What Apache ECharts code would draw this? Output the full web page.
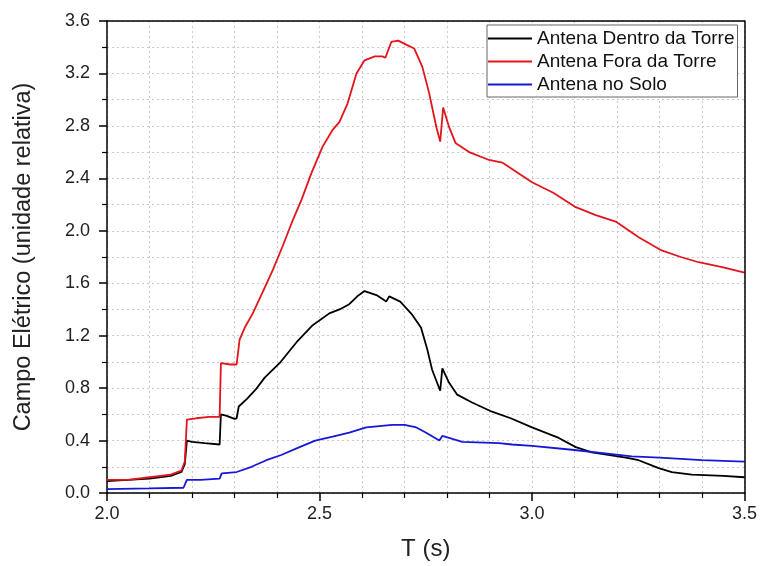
<!DOCTYPE html>
<html>
<head>
<meta charset="utf-8">
<script src="https://cdn.jsdelivr.net/npm/echarts@6/dist/echarts.min.js"></script>
<style>
  html, body { margin: 0; padding: 0; background: #fff; }
  #chart { width: 760px; height: 566px; }
</style>
</head>
<body>
<div id="chart"></div>
<script>
// Series names shown in the legend
const seriesNames = ['Antena Dentro da Torre', 'Antena Fora da Torre', 'Antena no Solo'];

// Antena Dentro da Torre: time (s) and field (relative units)
const tDentro = [2.00, 2.05, 2.10, 2.15, 2.175, 2.183, 2.188, 2.20, 2.23, 2.265, 2.268, 2.28, 2.30, 2.305, 2.31, 2.33, 2.35, 2.371, 2.406, 2.446, 2.484, 2.523, 2.547, 2.57, 2.589, 2.606, 2.634, 2.657, 2.664, 2.69, 2.718, 2.739, 2.754, 2.765, 2.784, 2.789, 2.805, 2.824, 2.859, 2.906, 2.95, 3.00, 3.063, 3.103, 3.141, 3.221, 3.251, 3.298, 3.329, 3.376, 3.45, 3.50];
const vDentro = [0.09, 0.10, 0.11, 0.13, 0.16, 0.22, 0.40, 0.39, 0.38, 0.37, 0.60, 0.59, 0.565, 0.57, 0.66, 0.72, 0.79, 0.88, 0.99, 1.15, 1.28, 1.37, 1.40, 1.44, 1.50, 1.54, 1.51, 1.46, 1.50, 1.46, 1.36, 1.26, 1.09, 0.94, 0.78, 0.95, 0.84, 0.75, 0.69, 0.62, 0.57, 0.50, 0.42, 0.35, 0.31, 0.27, 0.25, 0.19, 0.16, 0.14, 0.13, 0.12];

// Antena Fora da Torre
const tFora = [2.00, 2.05, 2.10, 2.15, 2.175, 2.183, 2.188, 2.21, 2.24, 2.265, 2.268, 2.29, 2.305, 2.312, 2.324, 2.343, 2.366, 2.39, 2.413, 2.437, 2.458, 2.481, 2.507, 2.531, 2.547, 2.566, 2.587, 2.606, 2.63, 2.648, 2.655, 2.669, 2.685, 2.704, 2.723, 2.742, 2.758, 2.775, 2.784, 2.791, 2.805, 2.82, 2.852, 2.899, 2.93, 3.00, 3.05, 3.103, 3.15, 3.197, 3.251, 3.305, 3.35, 3.392, 3.45, 3.50];
const vFora = [0.10, 0.10, 0.12, 0.14, 0.17, 0.24, 0.56, 0.57, 0.58, 0.58, 0.99, 0.98, 0.98, 1.17, 1.26, 1.37, 1.53, 1.70, 1.88, 2.08, 2.24, 2.44, 2.64, 2.77, 2.83, 2.97, 3.20, 3.30, 3.33, 3.33, 3.32, 3.44, 3.45, 3.42, 3.39, 3.25, 3.05, 2.79, 2.68, 2.94, 2.79, 2.67, 2.60, 2.54, 2.52, 2.37, 2.29, 2.18, 2.12, 2.07, 1.95, 1.85, 1.80, 1.76, 1.72, 1.68];

// Antena no Solo
const tSolo = [2.00, 2.10, 2.18, 2.188, 2.22, 2.265, 2.27, 2.305, 2.34, 2.375, 2.41, 2.453, 2.49, 2.531, 2.57, 2.61, 2.641, 2.671, 2.70, 2.728, 2.751, 2.782, 2.789, 2.836, 2.922, 2.953, 3.00, 3.094, 3.235, 3.30, 3.40, 3.50];
const vSolo = [0.03, 0.035, 0.04, 0.10, 0.10, 0.11, 0.15, 0.16, 0.20, 0.25, 0.29, 0.35, 0.40, 0.43, 0.46, 0.50, 0.51, 0.52, 0.52, 0.50, 0.46, 0.40, 0.435, 0.39, 0.38, 0.37, 0.36, 0.33, 0.28, 0.27, 0.25, 0.24];

const seriesColors = ['#000000', '#e3141b', '#1717d6'];

function pairs(ts, vs) { return ts.map((t, i) => [t, vs[i]]); }

const chart = echarts.init(document.getElementById('chart'), null, { renderer: 'canvas' });

const gridLine = { show: true, lineStyle: { color: '#c9c9c9', type: [2, 3], width: 1 } };
const frameLine = { show: true, onZero: false, lineStyle: { color: '#000', width: 1.5 } };

// plain axes on the top and right that only close the plot frame
const frameAxis = {
  type: 'value', axisLine: frameLine, axisTick: { show: false }, axisLabel: { show: false },
  splitLine: { show: false }, minorTick: { show: false }, minorSplitLine: { show: false }, z: 5
};

chart.setOption({
  animation: false,
  backgroundColor: '#ffffff',
  textStyle: { fontFamily: 'Liberation Sans, Arial, sans-serif' },
  grid: { left: 107, right: 14, top: 21, bottom: 73 },
  legend: {
    orient: 'vertical',
    left: 487, top: 25,
    padding: [4, 3, 3, 1],
    itemGap: 4,
    itemWidth: 44, itemHeight: 2,
    icon: 'rect',
    borderColor: '#666', borderWidth: 1,
    backgroundColor: '#fff',
    textStyle: { fontSize: 19, color: '#111' },
    data: seriesNames
  },
  xAxis: [{
    type: 'value', min: 2.0, max: 3.5, interval: 0.5,
    name: 'T (s)', nameLocation: 'middle', nameGap: 44,
    nameTextStyle: { fontSize: 24, color: '#222' },
    axisLine: frameLine,
    axisTick: { show: true, inside: false, length: 8, lineStyle: { color: '#000', width: 1.5 } },
    minorTick: { show: true, splitNumber: 5, length: 5, lineStyle: { color: '#000', width: 1.2 } },
    axisLabel: { fontSize: 18, color: '#222', margin: 12, formatter: v => v.toFixed(1) },
    splitLine: gridLine,
    minorSplitLine: gridLine
  }, Object.assign({ position: 'top', min: 2.0, max: 3.5 }, frameAxis)],
  yAxis: [{
    type: 'value', min: 0, max: 3.6, interval: 0.4,
    name: 'Campo Elétrico (unidade relativa)', nameLocation: 'middle', nameGap: 71,
    nameTextStyle: { fontSize: 23.5, color: '#222' },
    axisLine: frameLine,
    axisTick: { show: true, inside: false, length: 8, lineStyle: { color: '#000', width: 1.5 } },
    minorTick: { show: true, splitNumber: 2, length: 5, lineStyle: { color: '#000', width: 1.2 } },
    axisLabel: { fontSize: 18, color: '#222', margin: 17, formatter: v => v.toFixed(1) },
    splitLine: gridLine,
    minorSplitLine: gridLine
  }, Object.assign({ position: 'right', min: 0, max: 3.6 }, frameAxis)],
  series: [
    { name: seriesNames[0], type: 'line', data: pairs(tDentro, vDentro), showSymbol: false,
      color: seriesColors[0], lineStyle: { width: 1.8, color: seriesColors[0] } },
    { name: seriesNames[1], type: 'line', data: pairs(tFora, vFora), showSymbol: false,
      color: seriesColors[1], lineStyle: { width: 1.8, color: seriesColors[1] } },
    { name: seriesNames[2], type: 'line', data: pairs(tSolo, vSolo), showSymbol: false,
      color: seriesColors[2], lineStyle: { width: 1.8, color: seriesColors[2] } }
  ]
});
</script>
</body>
</html>
